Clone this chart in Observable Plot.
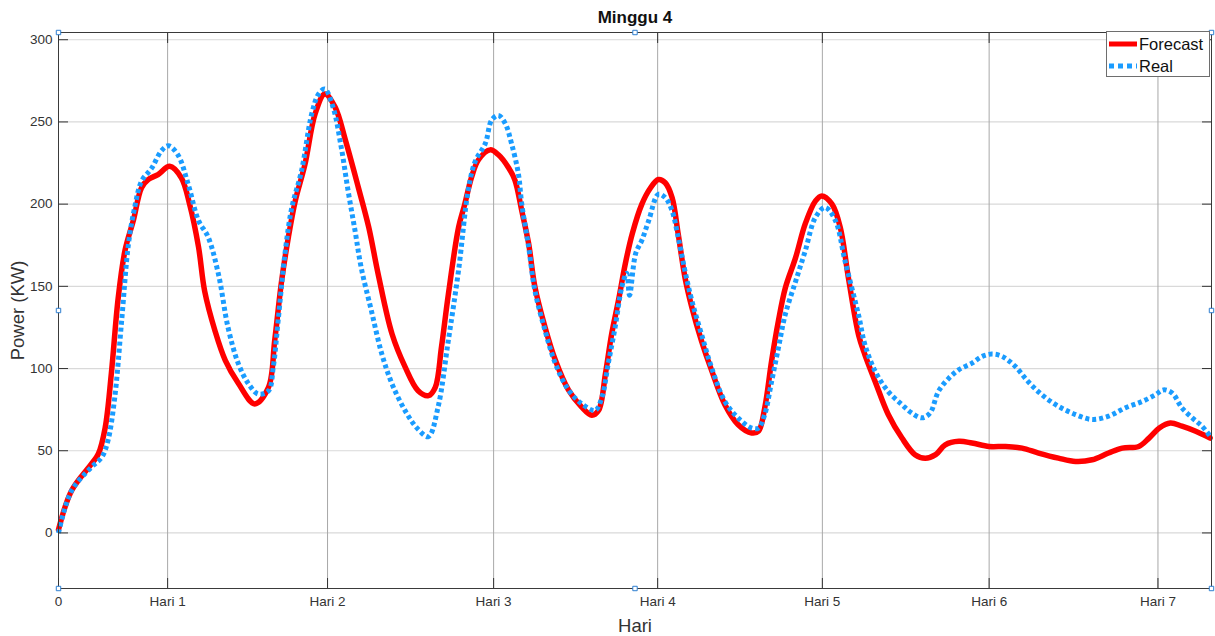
<!DOCTYPE html>
<html>
<head>
<meta charset="utf-8">
<script src="https://cdn.jsdelivr.net/npm/d3@7"></script>
<script src="https://cdn.jsdelivr.net/npm/@observablehq/plot@0.6"></script>
<style>
  html, body { margin: 0; padding: 0; background: #fff; }
  #wrap { position: relative; width: 1215px; height: 636px; font-family: "Liberation Sans", Arial, sans-serif; }
  #legend { position: absolute; left: 1106px; top: 31px; width: 104px; height: 46px; background: #fff; border: 1px solid #6e6e6e; box-sizing: border-box; }
  #legend .row { position: absolute; left: 0; height: 22px; display: flex; align-items: center; font-size: 16.5px; color: #111; }
  #legend svg { display: block; margin-left: 2px; margin-right: 2px; }
</style>
</head>
<body>
<div id="wrap">
  <div id="legend">
    <div class="row" style="top:1px"><svg width="28" height="10"><line x1="0" y1="5" x2="28" y2="5" stroke="#ff0000" stroke-width="5"/></svg><span>Forecast</span></div>
    <div class="row" style="top:23px"><svg width="28" height="10"><line x1="0" y1="5" x2="28" y2="5" stroke="#1a9cff" stroke-width="5" stroke-dasharray="5,4"/></svg><span>Real</span></div>
  </div>
</div>
<script>
// Titles and labels
const titleText = "Minggu 4";
const xLabel = "Hari";
const yLabel = "Power (KW)";

// X ticks (hours from start) and their labels
const xTickValues = [0, 15.9, 39.2, 63.4, 87.3, 111.3, 135.6, 160.2];
const xTickLabels = ["0", "Hari 1", "Hari 2", "Hari 3", "Hari 4", "Hari 5", "Hari 6", "Hari 7"];
const yTickValues = [0, 50, 100, 150, 200, 250, 300];

// Forecast series
const forecastHour = [0,1.9,4.8,5.8,6.8,7.7,8.7,9.7,10.9,12.1,13.1,14.5,16.2,17.9,19.1,20.4,21.3,22.8,24.3,26.2,28.6,
  30.6,31.5,32.5,33.5,34.5,35.9,37.4,38.8,40.3,41.8,43.7,45.2,46.6,48.6,50.5,52.4,53.9,54.9,55.8,56.8,58.3,
  59.2,60.2,61.2,62.9,64.1,65.6,66.5,67.5,68.5,69.4,70.9,72.4,74.3,76.2,77.7,78.7,79.7,80.6,81.6,82.6,83.6,85,86.2,
  87.4,88.4,89.4,90.3,91.3,92.3,93.7,95.2,97.1,99,101,102,102.9,103.9,104.9,105.9,107.4,108.8,110.3,111.2,112.7,113.9,115.1,
  116.6,117.5,119,120.9,122.9,124.8,126.3,127.8,129.2,131.2,133.1,135.6,138,140.4,142.8,145.7,
  148.2,150.6,153,155,157.4,158.9,160.4,162,163.7,165.7,167.8];
const forecastPower = [2,25.7,42,48,64,97,143,172,190,210,215,218,223,216,200,174,147,123,105,91,78.5,
  88.6,117,153,180,202,224,255,267,259,239,210,186,157,121,101,86.5,83.5,88.6,113,145,186,
  200,216.6,227,233,230,222,214.6,196,176,150,125,105,87,76.7,71.6,74.6,97,121,141.6,164,182,200,209.5,
  215,213,204,181.7,155,137,116.7,98.4,78,66,60.8,62,76,104.5,129,149,167.5,188,202,205,200,186,155,
  120,108.4,92,72,57.7,47.6,45.5,47.6,53.6,55.7,54.7,52.6,52.6,51.6,48.6,45.5,
  43.5,44.5,48.6,51.6,52.6,57.7,63.8,66.8,64.9,61.8,57.7];

// Real series
const realHour = [0,1.9,4.8,6.3,7.2,8.2,9.2,10.2,11.1,12.1,13.6,15,16,17.4,18.9,20.4,21.8,23.3,24.7,26.2,27.7,29.1,
  30.6,31.3,32,33,34,35.4,36.9,37.9,38.8,40,41.2,42.2,43.2,44.1,45.6,47.1,48.6,50.5,52.4,53.9,55.3,56.8,58.3,
  59.7,60.7,62.2,63.1,64.1,65.1,66,67,67.5,68.5,69.4,70.9,72.4,74.3,76.2,78.2,79.2,80.1,81.1,82.1,82.8,83.2,84.1,85,86,
  87.4,88.4,89.4,90.3,91.3,92.3,93.7,95.2,97.1,99,101,102,102.9,103.9,104.9,105.9,107.4,108.8,110.3,111.7,113.2,114.6,
  116.6,117.5,119,120.9,122.9,124.3,125.8,127,128.2,129.7,131.2,133.1,134.6,136,137.5,139.4,141.3,143.3,145.7,
  148.2,150.6,153,155.4,157.9,159.8,161,162.3,163.7,165.2,166.6,167.8];
const realPower = [0,25.7,40,46,56,82.5,129,176,198,214,222,232.5,235.5,230,212,190,180,157.5,125,103,90.6,84.5,
  86.5,101,129,170,198,220,255,267,270,259,234.5,208,184,161.5,135,109,90.6,74.4,63,58.6,76.4,117,160,
  208.5,225.8,237,251,254,249,237,218.7,200,174,147.7,123,103,87,78.7,74.6,82.8,103,125,150,158,144.6,170,178,190,
  206,204,196,179.7,159,141,120.7,100,80,70,63.8,63.8,72,92,112.6,133,153,171.5,192,198,190,165.5,
  132,114.5,98.3,86,78,73,70,73,86,94,99.3,103.3,107.4,108.8,107.4,101.3,92,84,77,
  72,69,71,76,80,84,87,85,76,70,65,59];

const forecast = forecastHour.map((h, i) => ({h, v: forecastPower[i]}));
const real = realHour.map((h, i) => ({h, v: realPower[i]}));
const xLabelMap = new Map(xTickValues.map((v, i) => [v, xTickLabels[i]]));

const font = "Liberation Sans, Arial, sans-serif";
const handles = ["top-left", "top", "top-right", "left", "right", "bottom-left", "bottom", "bottom-right"];

const chart = Plot.plot({
  width: 1215,
  height: 636,
  marginLeft: 58,
  marginRight: 4,
  marginTop: 32,
  marginBottom: 48,
  style: {fontFamily: font, fontSize: "13px", background: "white", color: "#333"},
  x: {domain: [0, 168], label: null},
  y: {domain: [-33.8, 304.4], label: null},
  marks: [
    Plot.gridY(yTickValues, {stroke: "#d9d9d9", strokeOpacity: 1, strokeWidth: 1.2}),
    Plot.gridX(xTickValues, {stroke: "#a8a8a8", strokeOpacity: 1, strokeWidth: 1}),
    Plot.line(forecast, {x: "h", y: "v", stroke: "#ff0000", strokeWidth: 5.5, curve: "catmull-rom"}),
    Plot.line(real, {x: "h", y: "v", stroke: "#1a9cff", strokeWidth: 5, strokeDasharray: "4 3", strokeLinecap: "butt", curve: "catmull-rom"}),
    Plot.frame({stroke: "#3a3a3a", strokeWidth: 1}),
    Plot.axisY({ticks: yTickValues, tickSize: -10, tickPadding: 16, fontSize: 13.5, color: "#333", label: null}),
    Plot.axisY({anchor: "right", ticks: yTickValues, tickSize: -10, tickFormat: () => "", color: "#333", label: null}),
    Plot.axisX({ticks: xTickValues, tickSize: -10, tickPadding: 18, fontSize: 13.5, tickFormat: d => xLabelMap.get(d), color: "#333", label: null}),
    Plot.axisX({anchor: "top", ticks: xTickValues, tickSize: -10, tickFormat: () => "", color: "#333", label: null}),
    Plot.text([titleText], {frameAnchor: "top", lineAnchor: "middle", textAnchor: "middle", dy: -15, fontSize: 17, fontWeight: "bold", fill: "#111"}),
    Plot.text([xLabel], {frameAnchor: "bottom", lineAnchor: "middle", textAnchor: "middle", dy: 38, fontSize: 18.5, fill: "#333"}),
    Plot.text([yLabel], {frameAnchor: "left", lineAnchor: "middle", textAnchor: "middle", dx: -40, rotate: -90, fontSize: 18.5, fill: "#333"}),
    ...handles.map(a => Plot.dot([0], {frameAnchor: a, symbol: "square", r: 2.5, stroke: "#2f7fd0", fill: "white", strokeWidth: 1}))
  ]
});

document.getElementById("wrap").prepend(chart);
</script>
</body>
</html>
